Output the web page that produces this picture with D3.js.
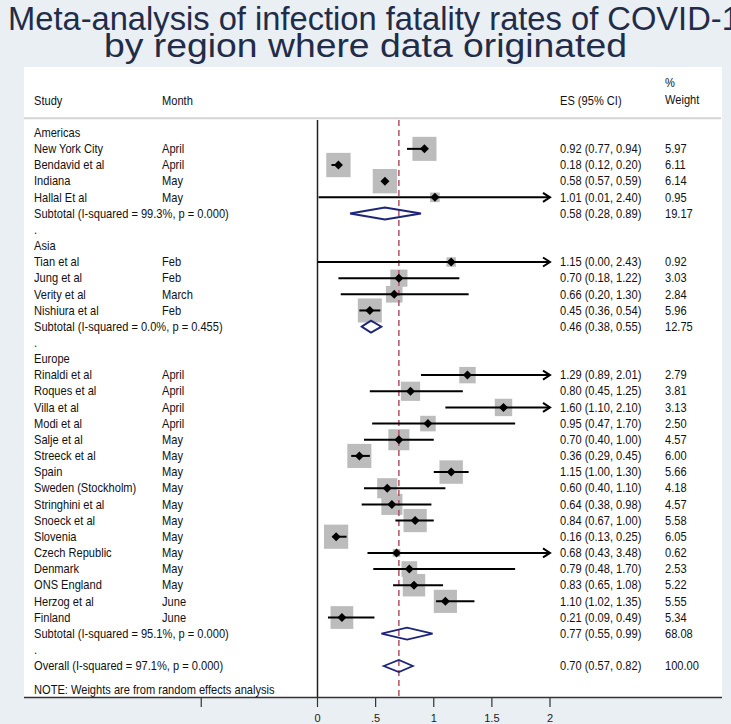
<!DOCTYPE html>
<html>
<head>
<meta charset="utf-8">
<script src="https://cdn.jsdelivr.net/npm/d3@7"></script>
<style>
  html, body { margin: 0; padding: 0; background: #e9eff3; }
  svg { display: block; font-family: "Liberation Sans", Arial, sans-serif; }
</style>
</head>
<body>
<div id="chart"></div>
<script>
// study level data, in plot order
const regions = ['Americas', 'Asia', 'Europe'];
const studies = ['New York City', 'Bendavid et al', 'Indiana', 'Hallal Et al',
    'Tian et al', 'Jung et al', 'Verity et al', 'Nishiura et al',
    'Rinaldi et al', 'Roques et al', 'Villa et al', 'Modi et al', 'Salje et al', 'Streeck et al',
    'Spain', 'Sweden (Stockholm)', 'Stringhini et al', 'Snoeck et al', 'Slovenia',
    'Czech Republic', 'Denmark', 'ONS England', 'Herzog et al', 'Finland'];
const region = ['Americas', 'Americas', 'Americas', 'Americas',
    'Asia', 'Asia', 'Asia', 'Asia',
    'Europe', 'Europe', 'Europe', 'Europe', 'Europe', 'Europe', 'Europe', 'Europe',
    'Europe', 'Europe', 'Europe', 'Europe', 'Europe', 'Europe', 'Europe', 'Europe'];
const months = ['April', 'April', 'May', 'May',
    'Feb', 'Feb', 'March', 'Feb',
    'April', 'April', 'April', 'April', 'May', 'May', 'May', 'May',
    'May', 'May', 'May', 'May', 'May', 'May', 'June', 'June'];
const es = [0.92, 0.18, 0.58, 1.01, 1.15, 0.70, 0.66, 0.45,
    1.29, 0.80, 1.60, 0.95, 0.70, 0.36, 1.15, 0.60, 0.64, 0.84, 0.16, 0.68, 0.79, 0.83, 1.10, 0.21];
const lo = [0.77, 0.12, 0.57, 0.01, 0.00, 0.18, 0.20, 0.36,
    0.89, 0.45, 1.10, 0.47, 0.40, 0.29, 1.00, 0.40, 0.38, 0.67, 0.13, 0.43, 0.48, 0.65, 1.02, 0.09];
const hi = [0.94, 0.20, 0.59, 2.40, 2.43, 1.22, 1.30, 0.54,
    2.01, 1.25, 2.10, 1.70, 1.00, 0.45, 1.30, 1.10, 0.98, 1.00, 0.25, 3.48, 1.70, 1.08, 1.35, 0.49];
const weights = [5.97, 6.11, 6.14, 0.95, 0.92, 3.03, 2.84, 5.96,
    2.79, 3.81, 3.13, 2.50, 4.57, 6.00, 5.66, 4.18, 4.57, 5.58, 6.05, 0.62, 2.53, 5.22, 5.55, 5.34];

// pooled estimates
const subLabels = ['Subtotal  (I-squared = 99.3%, p = 0.000)',
    'Subtotal  (I-squared = 0.0%, p = 0.455)',
    'Subtotal  (I-squared = 95.1%, p = 0.000)'];
const subES = [0.58, 0.46, 0.77];
const subLo = [0.28, 0.38, 0.55];
const subHi = [0.89, 0.55, 0.99];
const subW = [19.17, 12.75, 68.08];
const overallLabel = 'Overall  (I-squared = 97.1%, p = 0.000)';
const overall = {es: 0.70, lo: 0.57, hi: 0.82, w: 100.00};

const xTicks = [-1, 0, 0.5, 1, 1.5, 2];
const xTickLabels = ['', '0', '.5', '1', '1.5', '2'];

const width = 731, height = 724;
const fmt = d3.format('.2f');

// build the rows of the table in display order
const rows = [];
regions.forEach((r, k) => {
    rows.push({type: 'head', label: r});
    studies.forEach((s, i) => {
        if (region[i] !== r) return;
        rows.push({type: 'study', label: s, month: months[i], es: es[i], lo: lo[i], hi: hi[i], w: weights[i]});
    });
    rows.push({type: 'pool', label: subLabels[k], es: subES[k], lo: subLo[k], hi: subHi[k], w: subW[k]});
    rows.push({type: 'gap', label: '.'});
});
rows.push({type: 'pool', label: overallLabel, es: overall.es, lo: overall.lo, hi: overall.hi, w: overall.w});

const svg = d3.select('#chart').append('svg')
    .attr('width', width)
    .attr('height', height);

// title (glyphs in the source are a little condensed)
const title = svg.append('g').attr('fill', '#222c48').style('font-size', '33px');
title.append('text').attr('x', 8).attr('y', 29.5)
    .attr('textLength', 750).attr('lengthAdjust', 'spacingAndGlyphs')
    .text('Meta-analysis of infection fatality rates of COVID-19');
title.append('text').attr('x', 104).attr('y', 57)
    .attr('textLength', 523).attr('lengthAdjust', 'spacingAndGlyphs')
    .text('by region where data originated');

// white plot panel
svg.append('rect')
    .attr('x', 24).attr('y', 67)
    .attr('width', 698).attr('height', 630.5)
    .attr('fill', '#fff');

const x = d3.scaleLinear().domain([0, 2]).range([317.5, 550]);
const y = d3.scaleLinear().domain([0, rows.length - 1]).range([132.7, 666]);
const box = d3.scaleSqrt().domain([0, 6]).range([0, 24.1]);

const txt = svg.append('g').attr('fill', '#111').style('font-size', '12px');

// table text is slightly narrower than plain Arial
const label = (px, py, s) => txt.append('text')
    .attr('transform', `translate(${px},${py}) scale(0.925,1)`)
    .attr('dy', '0.35em')
    .text(s);

// header
label(34, 101, 'Study');
label(162, 101, 'Month');
label(560, 101, 'ES (95% CI)');
label(665, 83, '%');
label(665, 99.5, 'Weight');

svg.append('line')
    .attr('x1', 24).attr('x2', 721)
    .attr('y1', 118.3).attr('y2', 118.3)
    .attr('stroke', '#d4d4d4').attr('stroke-width', 2);

// table text
rows.forEach((d, i) => {
    label(34, y(i), d.label);
    if (d.month) label(162, y(i), d.month);
    if (d.es !== undefined) {
        label(560, y(i), `${fmt(d.es)} (${fmt(d.lo)}, ${fmt(d.hi)})`);
        label(665, y(i), fmt(d.w));
    }
});
label(34, 690, 'NOTE: Weights are from random effects analysis');

// vertical no-effect line
svg.append('line')
    .attr('x1', x(0)).attr('x2', x(0))
    .attr('y1', 120).attr('y2', 697.5)
    .attr('stroke', '#222').attr('stroke-width', 1.5);

const plot = svg.append('g');
const studyRows = rows.map((d, i) => ({...d, i})).filter(d => d.type === 'study');
const poolRows = rows.map((d, i) => ({...d, i})).filter(d => d.type === 'pool');

// weight boxes
plot.selectAll('rect.box').data(studyRows).enter().append('rect')
    .attr('class', 'box')
    .attr('x', d => x(d.es) - box(d.w) / 2)
    .attr('y', d => y(d.i) - box(d.w) / 2)
    .attr('width', d => box(d.w))
    .attr('height', d => box(d.w))
    .attr('fill', '#bcbcbc');

// overall estimate dashed line
plot.append('line')
    .attr('x1', x(overall.es)).attr('x2', x(overall.es))
    .attr('y1', 120).attr('y2', 697.5)
    .attr('stroke', '#b5535f').attr('stroke-width', 1.5)
    .attr('stroke-dasharray', '6,4');

// confidence intervals
const xMax = x.domain()[1];
plot.selectAll('line.ci').data(studyRows).enter().append('line')
    .attr('class', 'ci')
    .attr('x1', d => x(Math.max(0, d.lo)))
    .attr('x2', d => x(Math.min(xMax, d.hi)))
    .attr('y1', d => y(d.i)).attr('y2', d => y(d.i))
    .attr('stroke', '#000').attr('stroke-width', 2);

plot.selectAll('path.arrow').data(studyRows.filter(d => d.hi > xMax)).enter().append('path')
    .attr('class', 'arrow')
    .attr('d', d => `M${x(xMax) - 7},${y(d.i) - 4.5}L${x(xMax)},${y(d.i)}L${x(xMax) - 7},${y(d.i) + 4.5}`)
    .attr('fill', 'none').attr('stroke', '#000').attr('stroke-width', 2);

// point estimates
plot.selectAll('path.pt').data(studyRows).enter().append('path')
    .attr('class', 'pt')
    .attr('d', d => `M${x(d.es) - 4.5},${y(d.i)}L${x(d.es)},${y(d.i) - 4.5}L${x(d.es) + 4.5},${y(d.i)}L${x(d.es)},${y(d.i) + 4.5}Z`)
    .attr('fill', '#000');

// pooled diamonds
plot.selectAll('path.pool').data(poolRows).enter().append('path')
    .attr('class', 'pool')
    .attr('d', d => `M${x(d.lo)},${y(d.i)}L${x(d.es)},${y(d.i) - 6}L${x(d.hi)},${y(d.i)}L${x(d.es)},${y(d.i) + 6}Z`)
    .attr('fill', 'none').attr('stroke', '#1c2578').attr('stroke-width', 1.8);

// x axis
const ax = svg.append('g');
ax.append('line')
    .attr('x1', 24).attr('x2', 722)
    .attr('y1', 697.5).attr('y2', 697.5)
    .attr('stroke', '#333').attr('stroke-width', 1.5);
ax.selectAll('line.tick').data(xTicks).enter().append('line')
    .attr('class', 'tick')
    .attr('x1', d => x(d)).attr('x2', d => x(d))
    .attr('y1', 697.5).attr('y2', 707)
    .attr('stroke', '#333').attr('stroke-width', 1.2);
ax.selectAll('text').data(xTicks).enter().append('text')
    .attr('x', d => x(d)).attr('y', 718).attr('dy', '0.35em')
    .attr('text-anchor', 'middle')
    .attr('fill', '#1a1a1a').style('font-size', '11px')
    .text((d, i) => xTickLabels[i]);
</script>
</body>
</html>
